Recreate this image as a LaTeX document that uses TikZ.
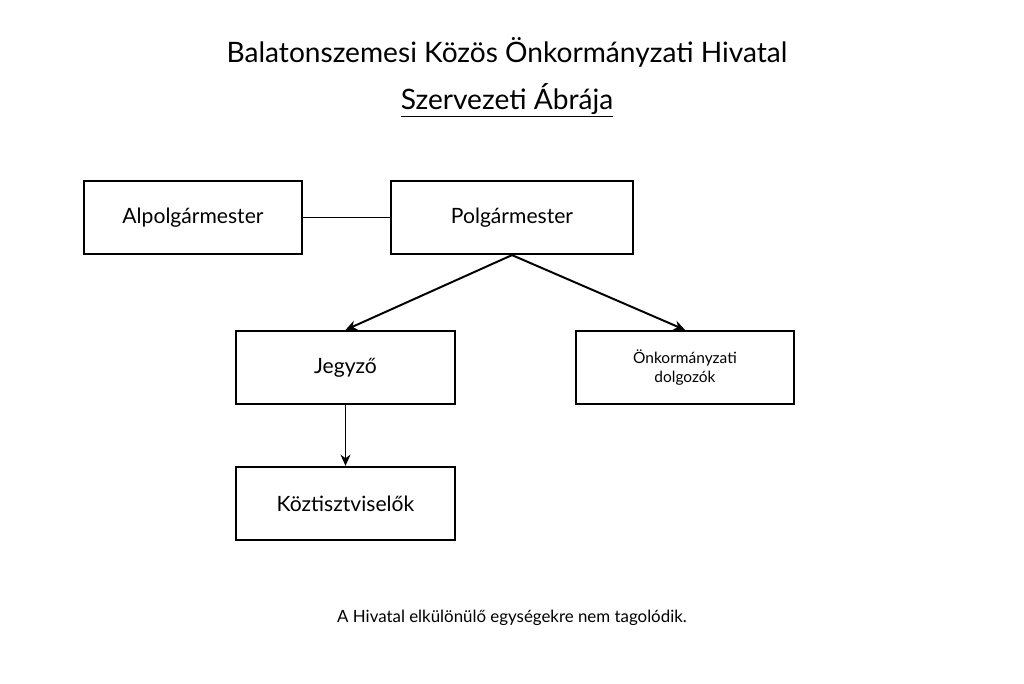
\documentclass[tikz,border=0pt]{standalone}
\usepackage{fontspec}
\setmainfont{Lato}
\usetikzlibrary{arrows.meta}
\tikzset{
  unit/.style={draw, line width=1.4pt, minimum width=5.45cm, minimum height=1.83cm, font=\fontsize{15}{18}\selectfont},
  small/.style={unit, font=\fontsize{11}{14}\selectfont, align=center},
  link/.style={line width=1.4pt},
  arr/.style={line width=1.4pt, -{Stealth[length=8pt,width=7pt]}}
}
\begin{document}
\begin{tikzpicture}[x=0.025cm,y=-0.025cm]
 \useasboundingbox (0,0) rectangle (1024,683);

 %%%%%%%%%% Title %%%%%%%%%%
 \node (title) at (507,52) {\fontsize{20}{24}\selectfont Balatonszemesi Közös Önkormányzati Hivatal};
 \node (subtitle) at (507,100) {\fontsize{20}{24}\selectfont\underline{Szervezeti Ábrája}};

 %%%%%%%%%% Units %%%%%%%%%%
 \node[unit] (alpolg) at (193,217.5) {Alpolgármester};
 \node[unit, minimum width=6.05cm] (polg) at (512,217.5) {Polgármester};
 \node[unit] (jegyzo) at (345.5,367.5) {Jegyző};
 \node[small] (dolg) at (685,367.5) {Önkormányzati\\dolgozók};
 \node[unit] (koztiszt) at (345.5,503.5) {Köztisztviselők};

 %%%%%%%%%% Links %%%%%%%%%%
 \draw [link] (alpolg) -- (polg);
 \draw [arr] (polg.south) -- (jegyzo.north);
 \draw [arr] (polg.south) -- (dolg.north);
 \draw [arr] (jegyzo) -- (koztiszt);

 %%%%%%%%%% Footer %%%%%%%%%%
 \node (note) at (512,618) {\fontsize{12}{14}\selectfont A Hivatal elkülönülő egységekre nem tagolódik.};
\end{tikzpicture}
\end{document}
